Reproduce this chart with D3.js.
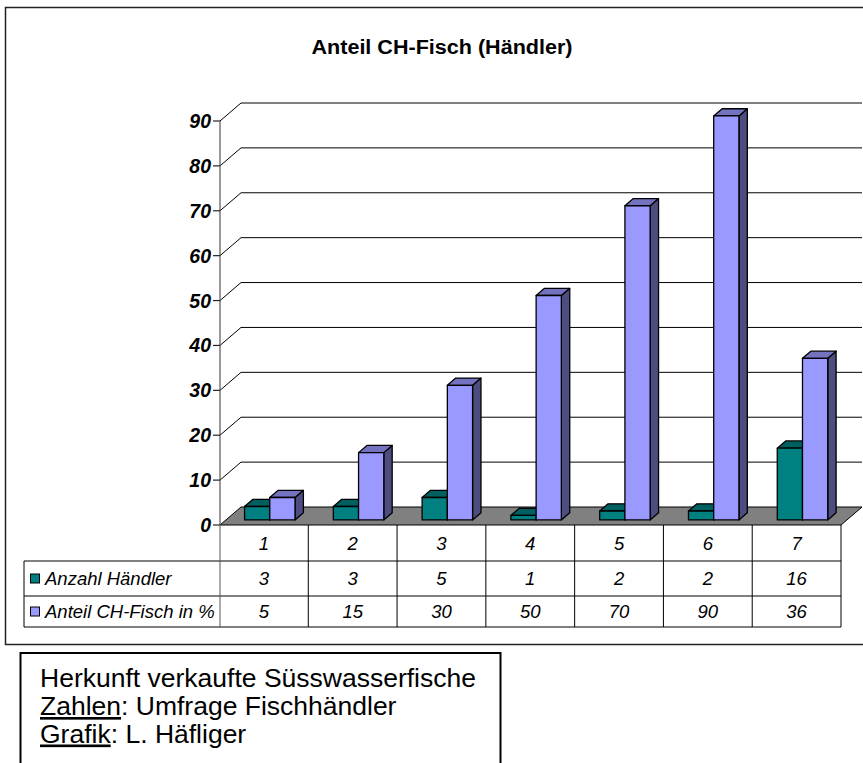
<!DOCTYPE html>
<html>
<head>
<meta charset="utf-8">
<script src="https://cdn.jsdelivr.net/npm/d3@7"></script>
<style>
  html, body { margin: 0; padding: 0; background: #fff; }
  svg { display: block; font-family: "Liberation Sans", Arial, sans-serif; }
</style>
</head>
<body>
<svg id="chart" width="863" height="763"></svg>
<script>
// ---- data ----
const categories = ["1", "2", "3", "4", "5", "6", "7"];
const seriesNames = ["Anzahl Händler", "Anteil CH-Fisch in %"];
const anzahlHaendler = [3, 3, 5, 1, 2, 2, 16];
const anteilCHFisch = [5, 15, 30, 50, 70, 90, 36];
const yTicks = [0, 10, 20, 30, 40, 50, 60, 70, 80, 90];
const titleText = "Anteil CH-Fisch (Händler)";
const noteLines = ["Herkunft verkaufte Süsswasserfische", "Zahlen: Umfrage Fischhändler", "Grafik: L. Häfliger"];

const seriesValues = [anzahlHaendler, anteilCHFisch];
const colors = [
  { front: "#008080", top: "#006060", side: "#004040" },
  { front: "#9999ff", top: "#7373bf", side: "#4d4d80" }
];

const svg = d3.select("#chart");

// outer frame
svg.append("rect").attr("x", 5.5).attr("y", 7.5).attr("width", 880).attr("height", 637)
  .attr("fill", "none").attr("stroke", "#222").attr("stroke-width", 1.5);

// title
svg.append("text").attr("x", 442).attr("y", 54).attr("text-anchor", "middle")
  .attr("font-weight", "bold").attr("font-size", 20)
  .attr("textLength", 261).attr("lengthAdjust", "spacingAndGlyphs").text(titleText);

// geometry
const DX = 21, DY = 18;              // depth of the back wall
const x0 = 219.5, x1 = 841;
const yScale = d3.scaleLinear().domain([0, 90]).range([525, 121]);
const xCat = d3.scaleBand().domain(categories).range([x0, x1]).paddingInner(0).paddingOuter(0);
const xSer = d3.scaleBand().domain(seriesNames).range([0, xCat.bandwidth()]).paddingOuter(0.76).paddingInner(0);
const zFront = 0.28, zBack = 0.68;

function P(x, y, z) { return [x + z * DX, y - z * DY]; }

// back wall gridlines
const grid = svg.append("g");
yTicks.filter(t => t > 0).forEach(t => {
  const y = yScale(t);
  grid.append("polyline")
    .attr("points", [[x0 + 0.5, y], [x0 + 0.5 + DX, y - DY], [x1 + DX, y - DY]].map(p => p.join(",")).join(" "))
    .attr("fill", "none").attr("stroke", "#000").attr("stroke-width", 1);
});

// floor
const y0 = yScale(0);
svg.append("polygon")
  .attr("points", [[x0 + 0.5, y0], [x1, y0], [x1 + DX, y0 - DY], [x0 + 0.5 + DX, y0 - DY]].map(p => p.join(",")).join(" "))
  .attr("fill", "#808080").attr("stroke", "#000").attr("stroke-width", 1);

// y axis
svg.append("line").attr("x1", x0 + 0.5).attr("x2", x0 + 0.5).attr("y1", yScale(90)).attr("y2", y0)
  .attr("stroke", "#555").attr("stroke-width", 1.2);
const yAxisG = svg.append("g");
yTicks.forEach(t => {
  const y = yScale(t);
  yAxisG.append("line").attr("x1", x0 - 6.5).attr("x2", x0 + 0.5).attr("y1", y).attr("y2", y)
    .attr("stroke", "#222").attr("stroke-width", 1.2);
  yAxisG.append("text").attr("x", x0 - 8.5).attr("y", y + 7).attr("text-anchor", "end")
    .attr("font-weight", "bold").attr("font-style", "italic").attr("font-size", 19.5).text(t);
});

// bars
const bars = svg.append("g").attr("stroke", "#000").attr("stroke-width", 1.3).attr("stroke-linejoin", "round");
categories.forEach((c, ci) => {
  seriesNames.forEach((s, si) => {
    const v = seriesValues[si][ci];
    const xa = xCat(c) + xSer(s);
    const xb = xa + xSer.bandwidth();
    const yb = yScale(0), yt = yScale(v);
    const col = colors[si];
    const pts = arr => arr.map(p => p.join(",")).join(" ");
    bars.append("polygon").attr("fill", col.side)
      .attr("points", pts([P(xb, yb, zFront), P(xb, yb, zBack), P(xb, yt, zBack), P(xb, yt, zFront)]));
    bars.append("polygon").attr("fill", col.top)
      .attr("points", pts([P(xa, yt, zFront), P(xb, yt, zFront), P(xb, yt, zBack), P(xa, yt, zBack)]));
    bars.append("polygon").attr("fill", col.front)
      .attr("points", pts([P(xa, yb, zFront), P(xb, yb, zFront), P(xb, yt, zFront), P(xa, yt, zFront)]));
  });
});

// data table
const tbl = svg.append("g");
const rowY = [525, 561, 596, 627];
const leftX = 24;
const colEdges = categories.map(c => xCat(c)).concat([x1]);
[561, 596, 627].forEach(y => tbl.append("line").attr("x1", leftX).attr("x2", x1).attr("y1", y).attr("y2", y)
  .attr("stroke", "#000").attr("stroke-width", 1));
colEdges.forEach((x, i) => tbl.append("line").attr("x1", i === 0 ? x + 0.5 : x).attr("x2", i === 0 ? x + 0.5 : x)
  .attr("y1", 525).attr("y2", 627).attr("stroke", i === 0 ? "#555" : "#000").attr("stroke-width", 1));
tbl.append("line").attr("x1", leftX).attr("x2", leftX).attr("y1", 561).attr("y2", 627)
  .attr("stroke", "#000").attr("stroke-width", 1);

const tFont = 18.5;
categories.forEach(c => {
  tbl.append("text").attr("x", xCat(c) + xCat.bandwidth() / 2).attr("y", 550)
    .attr("text-anchor", "middle").attr("font-style", "italic").attr("font-size", tFont).text(c);
});
seriesNames.forEach((s, si) => {
  const yMid = (rowY[si + 1] + rowY[si + 2]) / 2;
  tbl.append("rect").attr("x", 30.5).attr("y", yMid - 4.5).attr("width", 9).attr("height", 9)
    .attr("fill", colors[si].front).attr("stroke", "#000").attr("stroke-width", 1);
  tbl.append("text").attr("x", 45).attr("y", yMid + 6.5).attr("font-style", "italic").attr("font-size", tFont).text(s);
  categories.forEach((c, ci) => {
    tbl.append("text").attr("x", xCat(c) + xCat.bandwidth() / 2).attr("y", yMid + 6.5)
      .attr("text-anchor", "middle").attr("font-style", "italic").attr("font-size", tFont).text(seriesValues[si][ci]);
  });
});

// note box
svg.append("rect").attr("x", 20.5).attr("y", 653).attr("width", 480).attr("height", 130)
  .attr("fill", "#fff").attr("stroke", "#000").attr("stroke-width", 2);
const note = svg.append("text").attr("font-size", 26.5);
note.append("tspan").attr("x", 40).attr("y", 687).text(noteLines[0]);
[1, 2].forEach((i, k) => {
  const parts = noteLines[i].split(":");
  const t = note.append("tspan").attr("x", 40).attr("y", 715 + k * 27.5);
  t.append("tspan").attr("text-decoration", "underline").text(parts[0]);
  note.append("tspan").text(":" + parts[1]);
});
</script>
</body>
</html>
